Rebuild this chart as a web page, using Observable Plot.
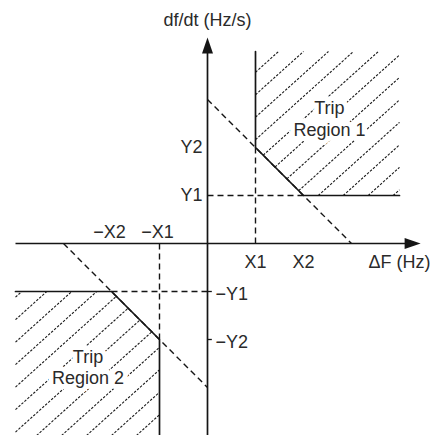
<!DOCTYPE html>
<html>
<head>
<meta charset="utf-8">
<script src="https://cdn.jsdelivr.net/npm/d3@7"></script>
<script src="https://cdn.jsdelivr.net/npm/@observablehq/plot@0.6"></script>
<style>
  html, body { margin: 0; padding: 0; background: #fff; }
</style>
</head>
<body>
<div id="chart"></div>
<script>
// Threshold settings (normalised units): frequency deviation and rate of change
const xThresholds = [1, 2];          // X1, X2
const yThresholds = [1, 2];          // Y1, Y2
const xTickLabels = ["X1", "X2"];
const yTickLabels = ["Y1", "Y2"];
const xNegLabels = ["−X1", "−X2"];
const yNegLabels = ["−Y1", "−Y2"];
const regionNames = ["Trip\nRegion 1", "Trip\nRegion 2"];
const axisTitles = ["ΔF (Hz)", "df/dt (Hz/s)"];
const extent = 4;                    // how far the region boundaries run
const axisTip = [4.44, 4.29];        // x and y arrow tips

const [X1, X2] = xThresholds;
const [Y1, Y2] = yThresholds;

// Region boundaries: vertical, sloped, horizontal
const boundary1 = [[X1, extent], [X1, Y2], [X2, Y1], [extent, Y1]];
const boundary2 = boundary1.map(([x, y]) => [-x, -y]).reverse();
const region1 = [...boundary1, [extent, extent]];
const region2 = [...boundary2, [-extent, -extent]];

// Dashed construction lines
const diagonalC = X2 + Y1;  // x + y = const through the knee points
const guides = [
  {x1: 0, y1: diagonalC, x2: diagonalC, y2: 0},
  {x1: -diagonalC, y1: 0, x2: 0, y2: -diagonalC},
  {x1: X1, y1: 0, x2: X1, y2: Y2},
  {x1: 0, y1: Y1, x2: X2, y2: Y1},
  {x1: -X1, y1: 0, x2: -X1, y2: -Y2},
  {x1: 0, y1: -Y1, x2: -X2, y2: -Y1}
];

// Hatch lines y = m x + c clipped to a convex polygon
function hatch(poly, m, through, stepX) {
  const dc = m * stepX;
  const cs = poly.map(([x, y]) => y - m * x);
  const cmin = d3.min(cs), cmax = d3.max(cs);
  const c0 = through[1] - m * through[0];
  const kmin = Math.ceil((cmin - c0) / dc), kmax = Math.floor((cmax - c0) / dc);
  const segs = [];
  for (let k = kmin; k <= kmax; ++k) {
    const c = c0 + k * dc;
    const pts = [];
    for (let i = 0; i < poly.length; ++i) {
      const p = poly[i], q = poly[(i + 1) % poly.length];
      const fp = p[1] - m * p[0] - c, fq = q[1] - m * q[0] - c;
      if ((fp <= 0 && fq >= 0) || (fp >= 0 && fq <= 0)) {
        if (fp === fq) continue;
        const t = fp / (fp - fq);
        pts.push([p[0] + t * (q[0] - p[0]), p[1] + t * (q[1] - p[1])]);
      }
    }
    if (pts.length >= 2) {
      const a = d3.least(pts, d => d[0]), b = d3.greatest(pts, d => d[0]);
      if (b[0] - a[0] > 0.05) segs.push({x1: a[0], y1: a[1], x2: b[0], y2: b[1]});
    }
  }
  return segs;
}
const slope = Math.tan(42 * Math.PI / 180);
const hatchStep = 0.52;
const hatches = [
  ...hatch(region1, slope, [X2, extent], hatchStep),
  ...hatch(region2, slope, [-X2, -extent], hatchStep)
];

// Filled arrowhead, tip at the origin, pointing up
const arrowHead = {
  draw(context) {
    context.moveTo(0, 0);
    context.lineTo(-5.5, 16);
    context.lineTo(5.5, 16);
    context.closePath();
  }
};

const ink = "#151515";
const textInk = "#2a2a2a";
const font = "'Liberation Sans', Arial, Helvetica, sans-serif";
const fs = 18;
const txt = {fill: textInk, fontSize: fs, fontFamily: font};

const chart = Plot.plot({
  width: 435,
  height: 435,
  margin: 0,
  x: {domain: [-207 / 48, 228 / 48], axis: null},
  y: {domain: [-192 / 48, 243 / 48], axis: null},
  style: {fontFamily: font, fontSize: fs + "px", background: "#fff"},
  marks: [
    // hatching of the trip regions
    Plot.link(hatches, {x1: "x1", y1: "y1", x2: "x2", y2: "y2",
      stroke: "#1a1a1a", strokeWidth: 1.1, strokeDasharray: "2.5,1.5"}),
    // dashed construction lines
    Plot.link(guides, {x1: "x1", y1: "y1", x2: "x2", y2: "y2",
      stroke: ink, strokeWidth: 1.4, strokeDasharray: "6,4"}),
    // trip boundaries
    Plot.line(boundary1, {x: d => d[0], y: d => d[1], stroke: ink, strokeWidth: 1.7}),
    Plot.line(boundary2, {x: d => d[0], y: d => d[1], stroke: ink, strokeWidth: 1.7}),
    // axes
    Plot.link([{x1: -extent, y1: 0, x2: axisTip[0] - 0.2, y2: 0},
               {x1: 0, y1: -extent, x2: 0, y2: axisTip[1] - 0.2}],
      {x1: "x1", y1: "y1", x2: "x2", y2: "y2", stroke: ink, strokeWidth: 1.7}),
    Plot.dot([{x: axisTip[0], y: 0, r: 90}, {x: 0, y: axisTip[1], r: 0}],
      {x: "x", y: "y", rotate: "r", symbol: arrowHead, r: 5, fill: ink, stroke: "none"}),
    // small ticks on the negative df/dt side
    Plot.link(yThresholds, {x1: 0, x2: 0.09, y1: d => -d, y2: d => -d, stroke: ink, strokeWidth: 1.3}),
    // tick labels
    Plot.text(xThresholds, {x: d => d, y: 0, text: (d, i) => xTickLabels[i], dy: 19, ...txt}),
    Plot.text(xThresholds, {x: d => -d, y: 0, text: (d, i) => xNegLabels[i], dy: -11, dx: -2, ...txt}),
    Plot.text(yThresholds, {x: 0, y: d => d, text: (d, i) => yTickLabels[i], dx: -5, textAnchor: "end", ...txt}),
    Plot.text(yThresholds, {x: 0, y: d => -d, text: (d, i) => yNegLabels[i], dx: 8, dy: 3, textAnchor: "start", ...txt}),
    // axis titles
    Plot.text([axisTitles[0]], {x: axisTip[0] - 0.44, y: 0, dy: 19, text: d => d, ...txt}),
    Plot.text([axisTitles[1]], {x: 0, y: axisTip[1] + 0.36, text: d => d, ...txt}),
    // region names, cleared from the hatching
    Plot.text([regionNames[0]], {x: 2.54, y: 2.61, text: d => d, ...txt,
      stroke: "#fff", strokeWidth: 10, lineHeight: 1.2}),
    Plot.text([regionNames[1]], {x: -2.49, y: -2.56, text: d => d, ...txt,
      stroke: "#fff", strokeWidth: 10, lineHeight: 1.2})
  ]
});
document.getElementById("chart").appendChild(chart);
</script>
</body>
</html>
